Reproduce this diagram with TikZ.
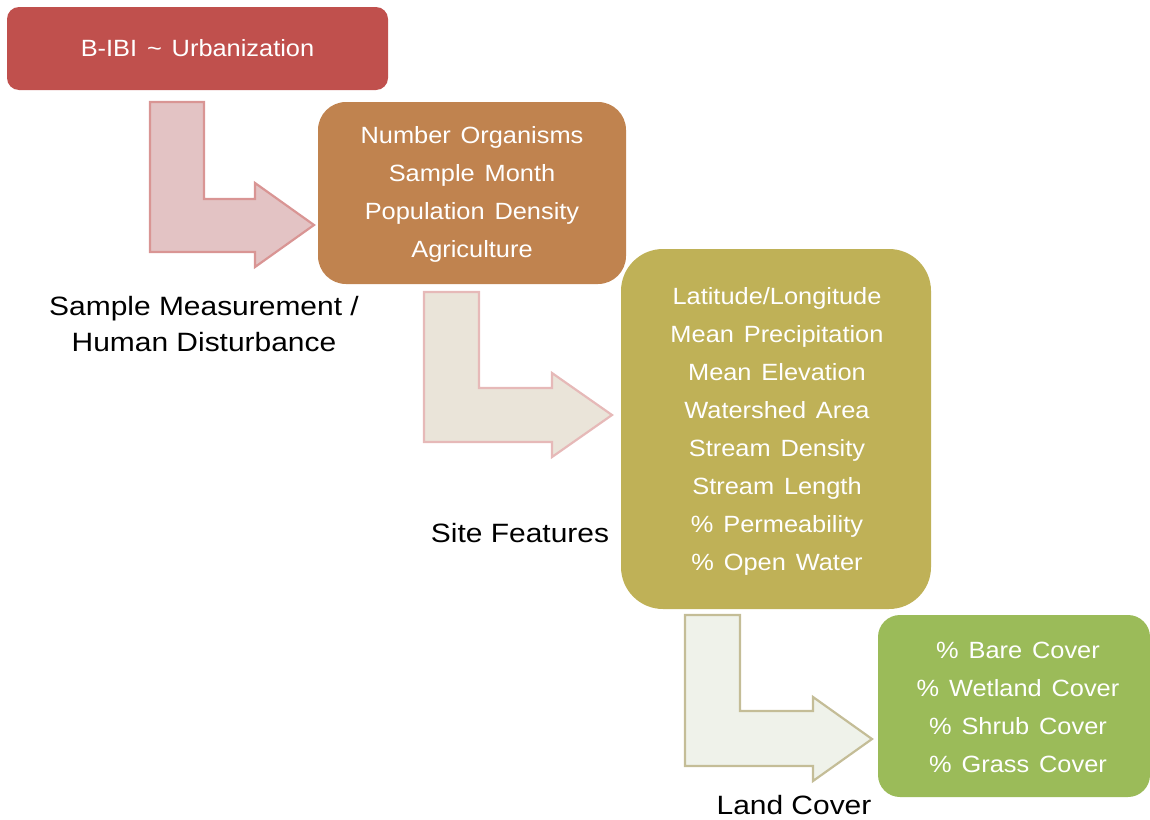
\documentclass[tikz,border=0pt]{standalone}
\usepackage{fontspec}
\setmainfont{Liberation Sans}
\newfontfamily\boxfont[FakeStretch=1.08,WordSpace=1.4]{Liberation Sans}
\newfontfamily\lblfont[FakeStretch=1.13]{Liberation Sans}
\definecolor{boxred}{HTML}{C0504D}
\definecolor{boxbrown}{HTML}{C0834F}
\definecolor{boxolive}{HTML}{BFB157}
\definecolor{boxgreen}{HTML}{9BBB59}
\definecolor{arfillA}{HTML}{E3C3C4}
\definecolor{arlineA}{HTML}{D99594}
\definecolor{arfillB}{HTML}{EAE4D9}
\definecolor{arlineB}{HTML}{E6B9B8}
\definecolor{arfillC}{HTML}{EFF2EA}
\definecolor{arlineC}{HTML}{C4BD97}
\begin{document}
\begin{tikzpicture}[x=1pt,y=-1pt,
  box/.style={rectangle, inner sep=0pt, text=white, align=center,
    font=\boxfont\fontsize{23.5}{38}\selectfont},
  lbl/.style={inner sep=0pt, text=black, align=center, font=\lblfont\fontsize{26.5}{36}\selectfont},
  bent/.style={line width=2.2pt, line join=miter}]
\useasboundingbox (0,0) rectangle (1150,819);
% boxes
\node[box, fill=boxred, rounded corners=12pt, minimum width=381pt, minimum height=83pt] (b1) at (197.5,48.5) {B-IBI \textasciitilde{} Urbanization};
\node[box, fill=boxbrown, rounded corners=28pt, minimum width=308pt, minimum height=182pt] (b2) at (472,193) {};
\node[box, anchor=center] (t2) at (472,194.5) {Number Organisms\\Sample Month\\Population Density\\Agriculture};
\node[box, fill=boxolive, rounded corners=42pt, minimum width=310pt, minimum height=360pt] (b3) at (776,429) {};
\node[box] (t3) at (777,431) {Latitude/Longitude\\Mean Precipitation\\Mean Elevation\\Watershed Area\\Stream Density\\Stream Length\\\% Permeability\\\% Open Water};
\node[box, fill=boxgreen, rounded corners=22pt, minimum width=272pt, minimum height=182pt] (b4) at (1014,706) {};
\node[box] (t4) at (1018,707) {\% Bare Cover\\\% Wetland Cover\\\% Shrub Cover\\\% Grass Cover};
% labels
\node[lbl] (l1) at (204,324) {Sample Measurement /\\Human Disturbance};
\node[lbl] (l2) at (520,533) {Site Features};
\node[lbl] (l3) at (794,805) {Land Cover};
% bent arrows
\draw[bent, fill=arfillA, draw=arlineA] (150,102) -- (204,102) -- (204,199) -- (255,199) -- (255,183) -- (314,225) -- (255,267) -- (255,252) -- (150,252) -- cycle;
\draw[bent, fill=arfillB, draw=arlineB] (424,292) -- (479,292) -- (479,388) -- (552,388) -- (552,373) -- (612,415) -- (552,457) -- (552,442) -- (424,442) -- cycle;
\draw[bent, fill=arfillC, draw=arlineC] (685,615) -- (740,615) -- (740,711) -- (813,711) -- (813,697) -- (872,739) -- (813,781) -- (813,766) -- (685,766) -- cycle;
\end{tikzpicture}
\end{document}
